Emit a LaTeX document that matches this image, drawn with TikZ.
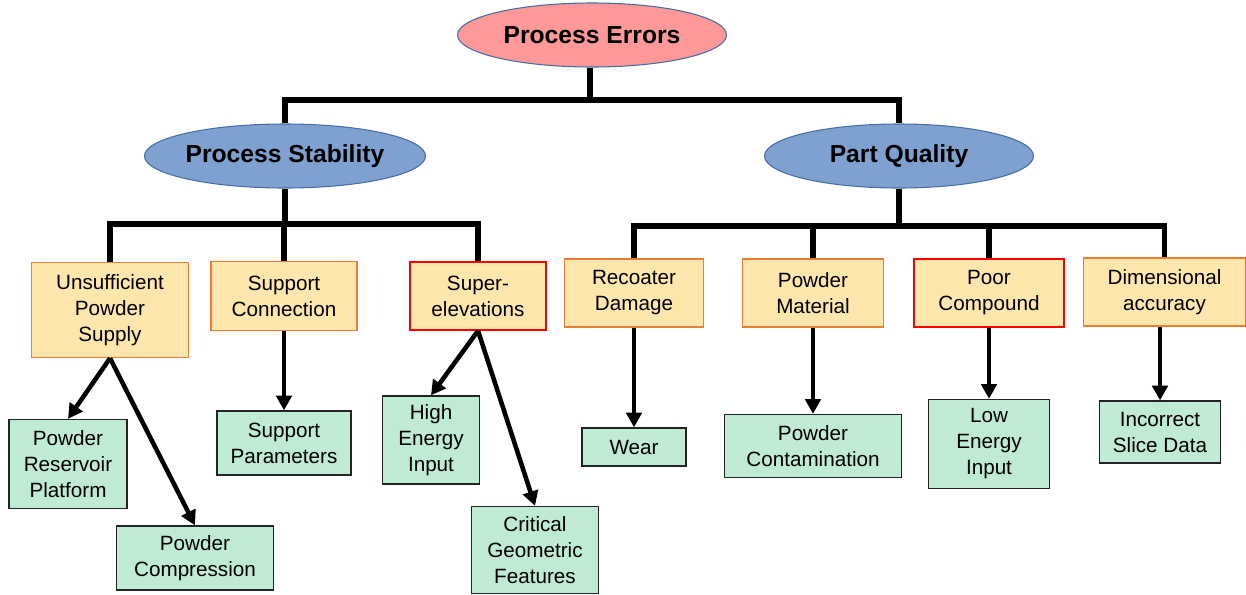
\documentclass[tikz,border=0pt]{standalone}
\usepackage{fontspec}
\setmainfont{Liberation Sans}
\usetikzlibrary{arrows.meta, shapes.geometric}

\definecolor{errpink}{RGB}{255,153,153}
\definecolor{headblue}{RGB}{126,161,207}
\definecolor{headline}{RGB}{70,110,165}
\definecolor{causefill}{RGB}{255,230,172}
\definecolor{causeline}{RGB}{237,125,49}
\definecolor{efffill}{RGB}{191,234,211}
\definecolor{effline}{RGB}{35,35,35}

\begin{document}
\begin{tikzpicture}[x=0.75pt, y=-0.75pt,
            font=\fontsize{15.5}{19.5}\selectfont,
            head/.style={ellipse, draw=headline, line width=0.8pt, inner sep=0pt,
                minimum width=201.75pt, minimum height=48pt,
                font=\fontsize{18.5}{22}\selectfont\bfseries},
            cause/.style={rectangle, draw=causeline, fill=causefill, line width=1.1pt,
                align=center, inner sep=0pt},
            redcause/.style={cause, draw=red},
            effect/.style={rectangle, draw=effline, fill=efffill, line width=1pt,
                align=center, inner sep=0pt},
            tree/.style={line width=4.2pt},
            arrow/.style={line width=3.4pt, -{Triangle[length=11pt, width=11.5pt]}}]

            \useasboundingbox (0,0) rectangle (1246,594);

            % Heads
            \node[head, fill=errpink] (errors) at (592,35) {Process Errors};
            \node[head, fill=headblue] (stability) at (285,156) {Process Stability};
            \node[head, fill=headblue] (quality) at (899,156) {Part Quality};

            % Causes
            \node[cause, minimum width=117.75pt, minimum height=71.25pt] (supply) at (110,310)
                {Unsufficient\\Powder\\Supply};
            \node[cause, minimum width=109.5pt, minimum height=51.75pt] (connection) at (284,296)
                {Support\\Connection};
            \node[redcause, minimum width=102pt, minimum height=51pt] (superelev) at (478,296)
                {Super-\\elevations};
            \node[cause, minimum width=104.25pt, minimum height=51pt] (recoater) at (634,293)
                {Recoater\\Damage};
            \node[cause, minimum width=105.75pt, minimum height=51pt] (material) at (813,293)
                {Powder\\Material};
            \node[redcause, minimum width=112.5pt, minimum height=51pt] (compound) at (989,293)
                {Poor\\Compound};
            \node[cause, minimum width=121.5pt, minimum height=51pt] (accuracy) at (1164.5,292)
                {Dimensional\\accuracy};

            % Effects
            \node[effect, minimum width=88.5pt, minimum height=66.75pt] (reservoir) at (68,464)
                {Powder\\Reservoir\\Platform};
            \node[effect, minimum width=117.75pt, minimum height=48pt] (compression) at (195,558)
                {Powder\\Compression};
            \node[effect, minimum width=100.5pt, minimum height=48pt] (supparams) at (284,443)
                {Support\\Parameters};
            \node[effect, minimum width=72.75pt, minimum height=66pt] (highenergy) at (431,440)
                {High\\Energy\\Input};
            \node[effect, minimum width=95.25pt, minimum height=65.25pt] (critical) at (535,550)
                {Critical\\Geometric\\Features};
            \node[effect, minimum width=78pt, minimum height=28.5pt] (wear) at (634,447) {Wear};
            \node[effect, minimum width=132.75pt, minimum height=47.25pt] (contamination) at (813,446)
                {Powder\\Contamination};
            \node[effect, minimum width=90.75pt, minimum height=66.75pt] (lowenergy) at (989,444)
                {Low\\Energy\\Input};
            \node[effect, minimum width=90.75pt, minimum height=46.5pt] (slicedata) at (1160,432)
                {Incorrect\\Slice Data};

            % Tree bars
            \coordinate (topbar) at (590,100);
            \coordinate (leftbar) at (285,224);
            \coordinate (rightbar) at (899,226);

            \draw[tree] (topbar |- errors.south) -- (topbar);
            \draw[tree] (stability.north) |- (topbar) -| (quality.north);

            \draw[tree] (stability.south) -- (leftbar);
            \draw[tree] (supply.north) |- (leftbar) -| (superelev.north);
            \draw[tree] (connection.north) -- (connection.north |- leftbar);

            \draw[tree] (quality.south) -- (rightbar);
            \draw[tree] (recoater.north) |- (rightbar) -| (accuracy.north);
            \draw[tree] (material.north) -- (material.north |- rightbar);
            \draw[tree] (compound.north) -- (compound.north |- rightbar);

            % Arrows
            \draw[arrow] (supply.south) -- (reservoir.north);
            \draw[arrow] (supply.south) -- (compression.north);
            \draw[arrow] (connection.south) -- (supparams.north);
            \draw[arrow] (superelev.south) -- (highenergy.north);
            \draw[arrow] (superelev.south) -- (critical.north);
            \draw[arrow] (recoater.south) -- (wear.north);
            \draw[arrow] (material.south) -- (contamination.north);
            \draw[arrow] (compound.south) -- (lowenergy.north);
            \draw[arrow] (slicedata.north |- accuracy.south) -- (slicedata.north);
        \end{tikzpicture}
\end{document}
